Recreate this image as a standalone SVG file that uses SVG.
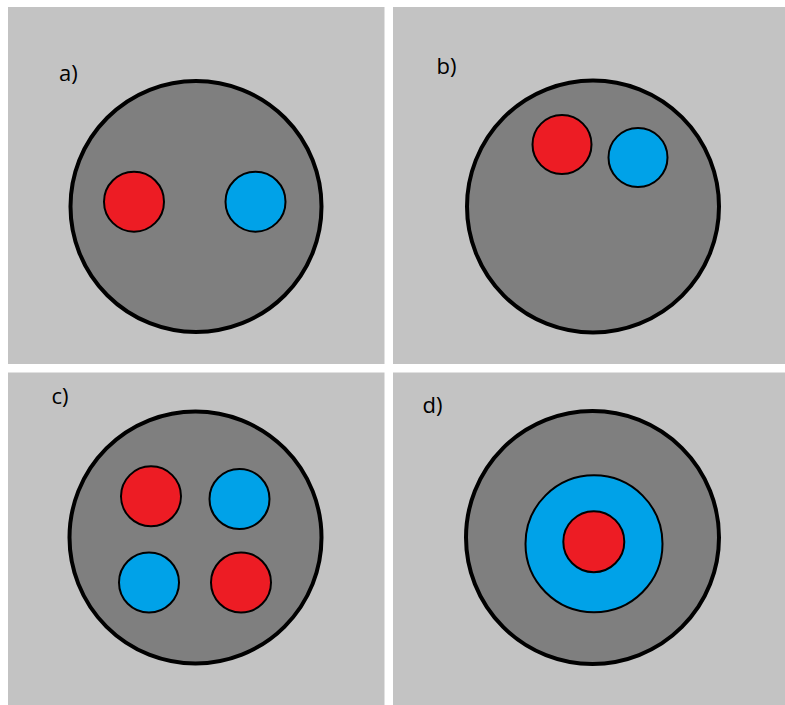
<svg xmlns="http://www.w3.org/2000/svg" width="785" height="705" viewBox="0 0 785 705">
<style>
.panel{fill:#c3c3c3}
.cell{fill:#7f7f7f;stroke:#000;stroke-width:4}
.red{fill:#ed1c24;stroke:#000;stroke-width:2}
.blue{fill:#00a2e8;stroke:#000;stroke-width:2}
.lbl{font-family:"Open Sans","Liberation Sans",sans-serif;font-size:22px;fill:#000}
</style>
<rect x="0" y="0" width="785" height="705" fill="#fff"/>
<g id="panel-a">
<rect class="panel" x="8" y="7" width="376.5" height="357"/>
<text class="lbl" x="59" y="81">a)</text>
<circle class="cell" cx="196" cy="206.5" r="125.5"/>
<circle class="red" cx="134" cy="201.7" r="30"/>
<circle class="blue" cx="255.5" cy="201.7" r="30"/>
</g>
<g id="panel-b">
<rect class="panel" x="393" y="7" width="392" height="357"/>
<text class="lbl" x="436.5" y="74">b)</text>
<circle class="cell" cx="593" cy="206.5" r="126"/>
<circle class="red" cx="562" cy="144.5" r="29.5"/>
<circle class="blue" cx="638" cy="157.5" r="29.5"/>
</g>
<g id="panel-c">
<rect class="panel" x="8" y="372.5" width="376.5" height="332.5"/>
<text class="lbl" x="51.5" y="404">c)</text>
<circle class="cell" cx="195.5" cy="537.5" r="126"/>
<circle class="red" cx="151" cy="496.3" r="30"/>
<circle class="blue" cx="239.5" cy="499" r="30"/>
<circle class="blue" cx="149" cy="582.5" r="30"/>
<circle class="red" cx="241" cy="582.5" r="30"/>
</g>
<g id="panel-d">
<rect class="panel" x="393" y="372.5" width="392" height="332.5"/>
<text class="lbl" x="422.5" y="412.5">d)</text>
<circle class="cell" cx="592.5" cy="537.5" r="126.5"/>
<circle class="blue" cx="594" cy="543.8" r="68.5"/>
<circle class="red" cx="593.8" cy="541.7" r="30.5"/>
</g>
<g id="connectors"></g>
</svg>
